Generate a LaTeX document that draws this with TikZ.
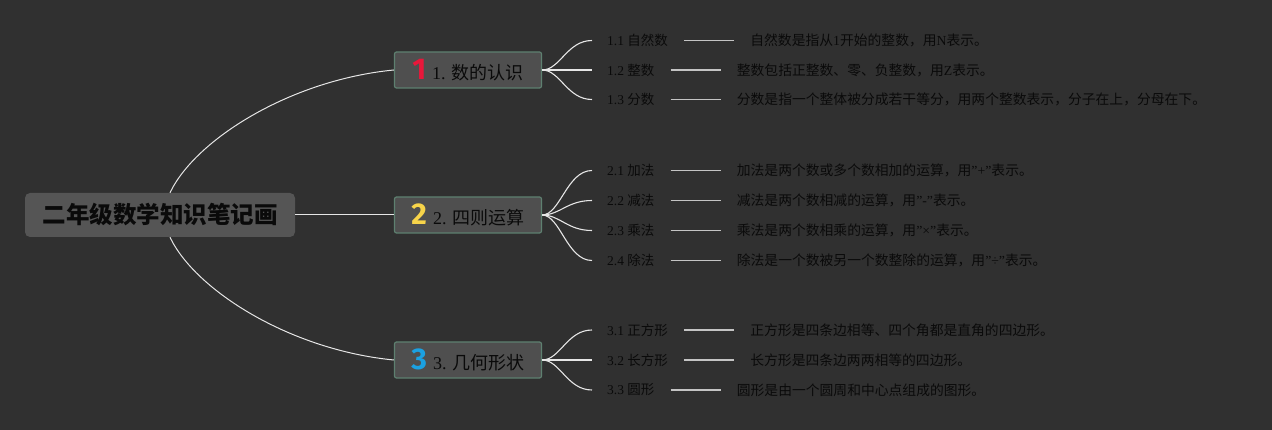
\documentclass[tikz,border=0pt]{standalone}
\usepackage{fontspec}
\setmainfont{Liberation Serif}
\newfontfamily\cjk{Noto Sans CJK SC}
\newfontfamily\numfont{Fira Sans}
\usetikzlibrary{calc}
\newcommand{\z}[1]{{\cjk #1}}
\newcommand{\bignum}{\numfont\bfseries\fontsize{30}{30}\selectfont}
\definecolor{bgc}{HTML}{303030}
\definecolor{rootfill}{HTML}{555555}
\definecolor{brfill}{HTML}{4F4F4F}
\definecolor{brdraw}{HTML}{5E8070}
\definecolor{numred}{HTML}{E8173A}
\definecolor{numyel}{HTML}{F7D44A}
\definecolor{numblu}{HTML}{1BA1E2}
\definecolor{txt}{HTML}{0A0A0A}
\definecolor{connc}{HTML}{E6E6E6}
\definecolor{stubc}{HTML}{C4C4C4}
\tikzset{
  rootbox/.style={fill=rootfill, rounded corners=5pt, minimum width=270pt, minimum height=44pt, inner sep=0pt, text=txt, font=\fontsize{23.5}{26}\selectfont},
  branchbox/.style={fill=brfill, draw=brdraw, line width=1.2pt, rounded corners=2pt, minimum width=147pt, minimum height=36pt, inner ysep=0pt, text=txt, font=\fontsize{18}{20}\selectfont},
  leaflab/.style={anchor=west, inner sep=0pt, text=txt, font=\fontsize{13.5}{15}\selectfont},
  leafdesc/.style={anchor=west, inner sep=0pt, text=txt, font=\fontsize{13.8}{15}\selectfont},
  mainconn/.style={draw=connc, line width=1pt},
  fan/.style={draw=connc, line width=1.1pt},
  stub/.style={draw=stubc, line width=1.5pt, shorten <=16pt, shorten >=16pt},
}
\begin{document}
\begin{tikzpicture}[x=1pt,y=-1pt]
\fill[bgc] (0,0) rectangle (1272,430);
\useasboundingbox (0,0) rectangle (1272,430);

% root and branches
\node[rootbox] (root) at (160,215) {\z{\bfseries 二年级数学知识笔记画}};
\node[branchbox] (b1) at (468,70) {{\bignum\color{numred}1}\hspace{6pt}1. \z{数的认识}};
\node[branchbox] (b2) at (468,215) {{\bignum\color{numyel}2}\hspace{6pt}2. \z{四则运算}};
\node[branchbox] (b3) at (468,360) {{\bignum\color{numblu}3}\hspace{6pt}3. \z{几何形状}};

\draw[mainconn] ($(root.north)+(10,0)$) .. controls (195,140) and (290,80) .. (b1.west);
\draw[mainconn] (root.east) -- (b2.west);
\draw[mainconn] ($(root.south)+(10,0)$) .. controls (195,290) and (290,350) .. (b3.west);

% leaves group 1
\node[leaflab] (l11) at (607,40.5) {1.1 \z{自然数}};
\node[leaflab] (l12) at (607,70) {1.2 \z{整数}};
\node[leaflab] (l13) at (607,99.5) {1.3 \z{分数}};
\node[leafdesc] (d11) at ($(l11.east)+(82,0)$) {\z{自然数是指从}1\z{开始的整数，用}N\z{表示。}};
\node[leafdesc] (d12) at ($(l12.east)+(82,0)$) {\z{整数包括正整数、零、负整数，用}Z\z{表示。}};
\node[leafdesc] (d13) at ($(l13.east)+(82,0)$) {\z{分数是指一个整体被分成若干等分，用两个整数表示，分子在上，分母在下。}};

% leaves group 2
\node[leaflab] (l21) at (607,170.5) {2.1 \z{加法}};
\node[leaflab] (l22) at (607,200.5) {2.2 \z{减法}};
\node[leaflab] (l23) at (607,230.5) {2.3 \z{乘法}};
\node[leaflab] (l24) at (607,260.5) {2.4 \z{除法}};
\node[leafdesc] (d21) at ($(l21.east)+(82,0)$) {\z{加法是两个数或多个数相加的运算，用}"+"\z{表示。}};
\node[leafdesc] (d22) at ($(l22.east)+(82,0)$) {\z{减法是两个数相减的运算，用}"-"\z{表示。}};
\node[leafdesc] (d23) at ($(l23.east)+(82,0)$) {\z{乘法是两个数相乘的运算，用}"×"\z{表示。}};
\node[leafdesc] (d24) at ($(l24.east)+(82,0)$) {\z{除法是一个数被另一个数整除的运算，用}"÷"\z{表示。}};

% leaves group 3
\node[leaflab] (l31) at (607,330) {3.1 \z{正方形}};
\node[leaflab] (l32) at (607,360) {3.2 \z{长方形}};
\node[leaflab] (l33) at (607,390) {3.3 \z{圆形}};
\node[leafdesc] (d31) at ($(l31.east)+(82,0)$) {\z{正方形是四条边相等、四个角都是直角的四边形。}};
\node[leafdesc] (d32) at ($(l32.east)+(82,0)$) {\z{长方形是四条边两两相等的四边形。}};
\node[leafdesc] (d33) at ($(l33.east)+(82,0)$) {\z{圆形是由一个圆周和中心点组成的图形。}};

% fans
\foreach \b/\l in {b1/l11,b1/l12,b1/l13,b2/l21,b2/l22,b2/l23,b2/l24,b3/l31,b3/l32,b3/l33}{
  \draw[fan] (\b.east) .. controls +(18,0) and +(-25,0) .. ($(\l.west)+(-15,0)$);
}
% stubs
\foreach \l/\d in {l11/d11,l12/d12,l13/d13,l21/d21,l22/d22,l23/d23,l24/d24,l31/d31,l32/d32,l33/d33}{
  \draw[stub] (\l.east) -- (\d.west);
}
\end{tikzpicture}
\end{document}
